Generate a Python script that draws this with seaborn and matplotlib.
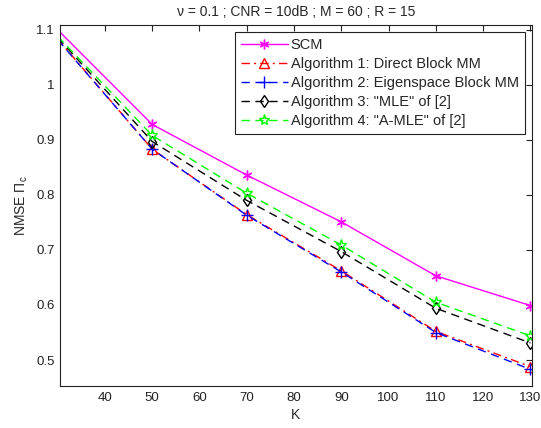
#!/usr/bin/env python3
"""NMSE vs K for the block MM algorithms (recreated figure)."""

import matplotlib
matplotlib.use("Agg")
import matplotlib.pyplot as plt
import pandas as pd
import seaborn as sns

K = [30, 50, 70, 90, 110, 130]
scm = [1.100, 0.928, 0.836, 0.751, 0.653, 0.599]
alg1 = [1.083, 0.883, 0.764, 0.662, 0.552, 0.488]
alg2 = [1.082, 0.883, 0.763, 0.660, 0.550, 0.483]
alg3 = [1.086, 0.897, 0.790, 0.697, 0.594, 0.531]
alg4 = [1.088, 0.908, 0.803, 0.709, 0.605, 0.544]

LABELS = [
    "SCM",
    "Algorithm 1: Direct Block MM",
    "Algorithm 2: Eigenspace Block MM",
    'Algorithm 3: "MLE" of [2]',
    'Algorithm 4: "A-MLE" of [2]',
]
STYLES = [
    dict(color="#ff00ff", dashes=(), marker=(6, 2, 0), mfc="#ff00ff", ms=7),
    dict(color="#ff0000", dashes=(6, 3, 1.5, 3), marker="^", mfc="none", ms=6.5),
    dict(color="#0000ff", dashes=(6, 4), marker="+", mfc="none", ms=8),
    dict(color="#000000", dashes=(6, 4), marker="d", mfc="none", ms=6),
    dict(color="#00ff00", dashes=(6, 4), marker="*", mfc="none", ms=8),
]


def main():
    sns.set_theme(style="white")
    plt.rcParams["font.family"] = ["Liberation Sans", "DejaVu Sans"]
    plt.rcParams["mathtext.fontset"] = "custom"
    plt.rcParams["mathtext.rm"] = "Liberation Sans"
    plt.rcParams["mathtext.it"] = "Liberation Sans"

    df = pd.DataFrame({"K": K})
    for lab, vals in zip(LABELS, [scm, alg1, alg2, alg3, alg4]):
        df[lab] = vals

    fig = plt.figure(figsize=(5.41, 4.28), dpi=100)
    ax = fig.add_axes([0.111, 0.098, 0.872, 0.844])

    for lab, st in zip(LABELS, STYLES):
        st = dict(st)
        dashes = st.pop("dashes")
        line_ax = sns.lineplot(data=df, x="K", y=lab, ax=ax, label=lab, lw=1.0,
                               markevery=slice(1, None), mew=1.0,
                               mec=st["color"], **st)
        ln = line_ax.get_lines()[-1]
        if dashes:
            ln.set_dashes(dashes)

    ax.set_xlim(30.5, 130.3)
    ax.set_ylim(0.4527, 1.109)
    ax.set_xticks(range(40, 131, 10))
    ax.set_yticks([0.5, 0.6, 0.7, 0.8, 0.9, 1.0, 1.1])
    ax.set_yticklabels(["0.5", "0.6", "0.7", "0.8", "0.9", "1", "1.1"])
    ax.tick_params(direction="in", top=True, right=True, length=4, width=0.8,
                   labelsize=9.5, colors="#222222", pad=4)
    for sp in ax.spines.values():
        sp.set_color("#222222")
        sp.set_linewidth(0.8)

    ax.set_xlabel("K", fontsize=10, labelpad=3)
    ax.set_ylabel(r"NMSE $\Pi_c$", fontsize=10, labelpad=4)
    ax.set_title("ν = 0.1 ; CNR = 10dB ; M = 60 ; R = 15", fontsize=10, pad=6)

    leg = ax.legend(loc="upper right", fontsize=10.5, handlelength=3.2,
                    labelspacing=0.35, borderpad=0.4, handletextpad=0.2,
                    fancybox=False, framealpha=1, borderaxespad=0.5)
    leg.get_frame().set_edgecolor("#222222")
    leg.get_frame().set_linewidth(0.8)

    fig.savefig("out.png", dpi=100)
    plt.close(fig)


if __name__ == "__main__":
    main()
